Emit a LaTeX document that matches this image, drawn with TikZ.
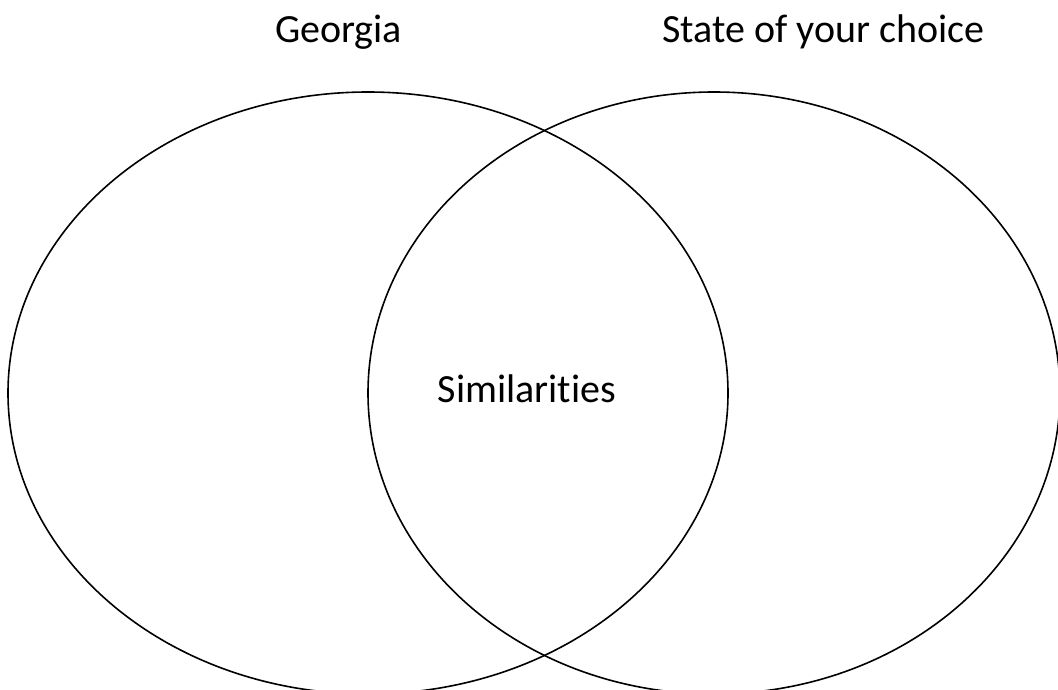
\documentclass[tikz,border=0pt]{standalone}
\usepackage{fontspec}
\setmainfont{Carlito}[Ligatures={NoCommon,NoDiscretionary,NoRare,NoContextual}]
\begin{document}
\begin{tikzpicture}[x=1pt,y=-1pt,
  ring/.style={draw=black,line width=1.6pt},
  lbl/.style={font=\fontsize{40}{48}\selectfont,anchor=base,inner sep=0pt,text=black}]
\useasboundingbox (0,0) rectangle (1058,690);
\clip (0,0) rectangle (1058,690);
\fill[white] (0,0) rectangle (1058,690);
\draw[ring] (368,393) ellipse [x radius=360, y radius=301];
\draw[ring] (714,393) ellipse [x radius=346, y radius=301];
\node[lbl] (georgia) at (338.5,43) {Georgia};
\node[lbl] (state) at (823.5,43) {State of your choice};
\node[lbl] (sim) at (527,402) {Similarities};
\end{tikzpicture}
\end{document}
